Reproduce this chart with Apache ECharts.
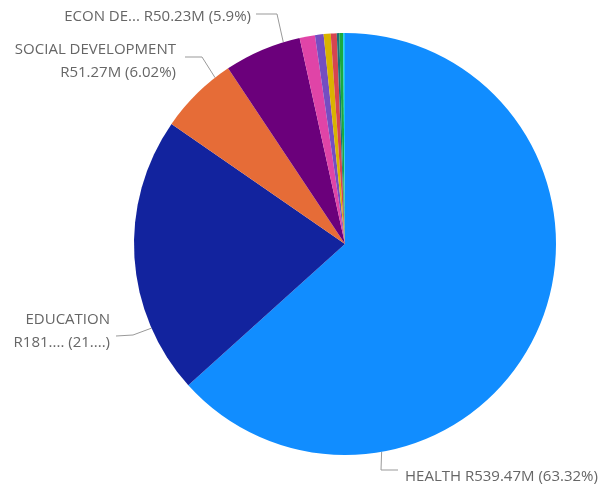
<!DOCTYPE html>
<html><head><meta charset="utf-8">
<script src="https://cdn.jsdelivr.net/npm/echarts@6/dist/echarts.min.js"></script>
<style>html,body{margin:0;padding:0;background:#fff}#c{width:603px;height:494px}</style>
</head><body><div id="c"></div>
<script>
const categories = ['HEALTH','EDUCATION','SOCIAL DEVELOPMENT','ECON DEVELOPMENT','Other 1','Other 2','Other 3','Other 4','Other 5','Other 6','Other 7'];
const values = [539.47, 181.6, 51.27, 50.23, 10.0, 5.6, 4.6, 3.9, 1.6, 2.5, 1.2];
const colors = ['#118DFF','#12239E','#E66C37','#6B007B','#E044A7','#744EC2','#D9B300','#D64550','#197278','#1AAB40','#15C6F4'];

const total = values.reduce((a,b)=>a+b,0);
function pct(v){ return parseFloat((v/total*100).toFixed(2)).toString(); }

// label placement (layout only)
const CX=345, CY=244, R=211;
const labelLayouts = {
  0: {x:405, y:477, align:'left', edgeAngle:170, pts:[[381,470],[398,470]]},
  1: {x:110, y:331, align:'right', edgeAngle:246.5, pts:[[133,335],[116,336]]},
  2: {x:176, y:61, align:'right', edgeAngle:322, pts:[[202,57],[185,57]]},
  3: {x:251, y:17, align:'right', edgeAngle:343, pts:[[277,14],[256,14]]}
};
function edgePoint(a){ const r=a*Math.PI/180; return [CX+R*Math.sin(r), CY-R*Math.cos(r)]; }

function labelText(i){
  const n=categories[i], v=values[i], p=pct(v);
  if(i===0) return n+' R'+v.toFixed(2)+'M ('+p+'%)';
  if(i===1) return n+'\nR'+String(v).slice(0,3)+'.... ('+p.slice(0,2)+'....)';
  if(i===2) return n+'\nR'+v.toFixed(2)+'M ('+p+'%)';
  if(i===3) return n.slice(0,7)+'... R'+v.toFixed(2)+'M ('+p+'%)';
  return '';
}

const data = categories.map((n,i)=>({
  name:n, value:values[i], itemStyle:{color:colors[i]},
  label:{show: i<4}, labelLine:{show: i<4}
}));

const chart = echarts.init(document.getElementById('c'), null, {renderer:'canvas'});
chart.setOption({
  animation:false,
  series:[{
    type:'pie',
    center:[CX,CY],
    radius:[0,R],
    startAngle:90,
    clockwise:true,
    data:data,
    label:{
      show:true, position:'outside', overflow:'none',
      formatter:(p)=>labelText(p.dataIndex),
      color:'#666666', fontFamily:'Open Sans', fontSize:15, lineHeight:23
    },
    labelLine:{show:true, lineStyle:{color:'#999999', width:1}, length:10, length2:10},
    labelLayout:(params)=>{
      const L = labelLayouts[params.dataIndex];
      if(!L) return {};
      return {
        x:L.x, y:L.y, align:L.align, verticalAlign:'middle',
        labelLinePoints:[edgePoint(L.edgeAngle)].concat(L.pts)
      };
    }
  }]
});
</script></body></html>
